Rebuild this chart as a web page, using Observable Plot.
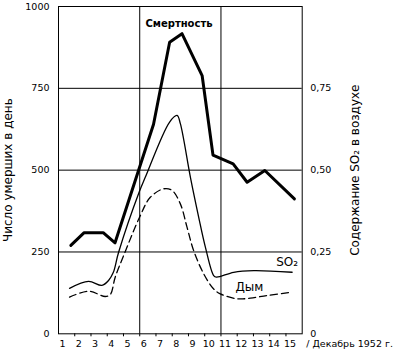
<!DOCTYPE html>
<html><head><meta charset="utf-8">
<script src="https://cdn.jsdelivr.net/npm/d3@7"></script>
<script src="https://cdn.jsdelivr.net/npm/@observablehq/plot@0.6"></script>
<style>body{margin:0;background:#fff}</style>
</head><body><div id="chart"></div>
<script>
// Tick labels
const dayLabels = ["1","2","3","4","5","6","7","8","9","10","11","12","13","14","15"];
const leftTicks = [0, 250, 500, 750, 1000];
const rightTicks = [0, 0.25, 0.5, 0.75];
const rightTickLabels = ["0", "0,25", "0,50", "0,75"];
const monthLabel = "/ Декабрь 1952 г.";
const leftTitle = "Число умерших в день";
const rightTitle = "Содержание SO₂ в воздухе";

// Deaths per day (positions along the 15-day axis, 0..15)
const deathPos = [0.76, 1.58, 2.75, 3.48, 5.85, 6.84, 7.60, 8.84, 9.51, 10.75, 11.61, 12.70, 14.52];
const deathValues = [270, 309, 309, 278, 640, 891, 917, 789, 546, 519, 463, 499, 412];

// SO2 (right axis units)
const so2Pos = [0.68, 1.85, 2.67, 3.08, 3.37, 3.70, 4.99, 5.34, 6.84, 7.30, 7.50, 8.12, 8.63, 9.04, 9.55, 9.72, 10.78, 12.02, 14.38];
const so2Values = [0.139, 0.160, 0.148, 0.163, 0.187, 0.249, 0.436, 0.478, 0.647, 0.667, 0.642, 0.478, 0.356, 0.265, 0.178, 0.173, 0.188, 0.193, 0.188];

// Smoke (right axis units)
const smokePos = [0.68, 1.85, 2.88, 3.19, 3.49, 4.01, 4.99, 5.65, 6.47, 6.99, 7.50, 7.91, 8.32, 8.94, 9.55, 9.96, 10.99, 11.81, 12.84, 14.38];
const smokeValues = [0.112, 0.130, 0.114, 0.120, 0.173, 0.239, 0.356, 0.417, 0.443, 0.438, 0.397, 0.326, 0.254, 0.183, 0.137, 0.122, 0.107, 0.109, 0.117, 0.127];

const gridY = [250, 500, 750];
const gridX = [5, 10];

const deaths = deathPos.map((p, i) => ({x: p, y: deathValues[i]}));
const so2 = so2Pos.map((p, i) => ({x: p, y: so2Values[i] * 1000}));
const smoke = smokePos.map((p, i) => ({x: p, y: smokeValues[i] * 1000}));
const peak = deaths[d3.maxIndex(deaths, d => d.y)];
const so2End = so2[so2.length - 1];
const smokeLab = smoke[17];

const font = "DejaVu Sans";
const chart = Plot.plot({
  width: 393, height: 354,
  marginLeft: 58, marginRight: 91.3, marginTop: 6, marginBottom: 20.7,
  x: {domain: [0, 15], axis: null},
  y: {domain: [0, 1000], axis: null},
  style: {fontFamily: font, fontSize: "9.5px", background: "#fff", color: "#000"},
  marks: [
    Plot.ruleY(gridY, {stroke: "#000", strokeWidth: 1}),
    Plot.ruleX(gridX, {stroke: "#000", strokeWidth: 1}),
    Plot.frame({stroke: "#000", strokeWidth: 1}),
    Plot.axisX({ticks: d3.range(1, 15), tickSize: 3, tickFormat: () => "", stroke: "#000", label: null}),
    Plot.axisX({ticks: dayLabels.map((t, i) => i + 0.5), tickSize: 0, tickPadding: 6, dx: -4, label: null,
      tickFormat: d => dayLabels[Math.round(d - 0.5)], fill: "#000", fontSize: 9.5}),
    Plot.axisY({anchor: "left", ticks: leftTicks, tickSize: 0, tickPadding: 9, label: null,
      tickFormat: d => String(d), fontSize: 9.5}),
    Plot.axisY({anchor: "right", ticks: rightTicks.map(v => v * 1000), tickSize: 0, tickPadding: 8, label: null,
      tickFormat: d => rightTickLabels[rightTicks.indexOf(d / 1000)], fontSize: 9.5}),
    Plot.line(smoke, {x: "x", y: "y", curve: "catmull-rom", stroke: "#000", strokeWidth: 1.3, strokeDasharray: "7,4"}),
    Plot.line(so2, {x: "x", y: "y", curve: "catmull-rom", stroke: "#000", strokeWidth: 1.3}),
    Plot.line(deaths, {x: "x", y: "y", stroke: "#000", strokeWidth: 3, strokeLinejoin: "round", strokeLinecap: "round"}),
    Plot.text([peak], {x: "x", y: "y", text: () => "Смертность", dx: -3, dy: -10, fontWeight: "bold", fontSize: 10, fill: "#000"}),
    Plot.text([so2End], {x: "x", y: "y", text: () => "SO₂", textAnchor: "end", dx: 6, dy: -10, fontSize: 12, fill: "#000"}),
    Plot.text([smokeLab], {x: "x", y: "y", text: () => "Дым", dx: -1, dy: -11, fontSize: 12, fill: "#000"}),
    Plot.text([leftTitle], {frameAnchor: "left", text: d => d, rotate: -90, dx: -50, textAnchor: "middle", lineAnchor: "middle", fontSize: 12, fill: "#000"}),
    Plot.text([rightTitle], {frameAnchor: "right", text: d => d, rotate: -90, dx: 53, textAnchor: "middle", lineAnchor: "middle", fontSize: 12, fill: "#000"}),
    Plot.text([monthLabel], {frameAnchor: "bottom-right", text: d => d, textAnchor: "start", lineAnchor: "middle", dx: 4, dy: 10, fontSize: 9.5, fill: "#000"})
  ]
});
document.getElementById("chart").appendChild(chart);
</script>
</body></html>
